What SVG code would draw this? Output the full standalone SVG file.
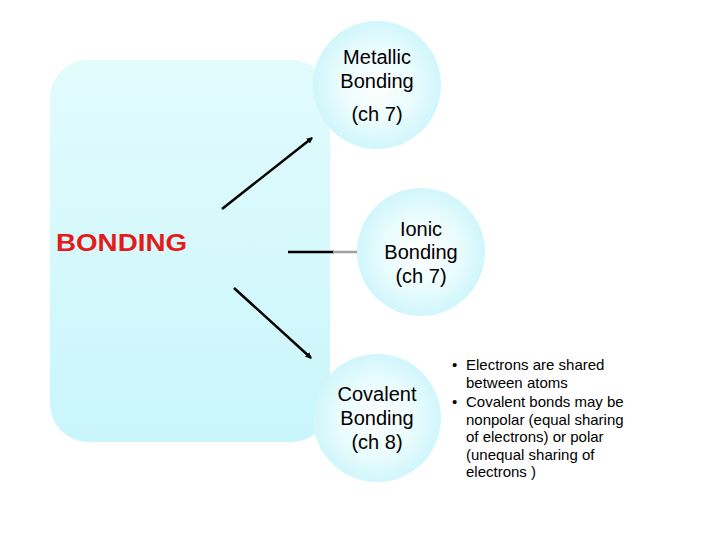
<svg xmlns="http://www.w3.org/2000/svg" width="720" height="540" viewBox="0 0 720 540">
<defs>
<linearGradient id="bg" x1="0" y1="0" x2="0" y2="1"><stop offset="0" stop-color="#e2fbfd"/><stop offset="1" stop-color="#c9f6fb"/></linearGradient>
<radialGradient id="cg" cx="0.5" cy="0.5" r="0.5"><stop offset="0" stop-color="#ffffff"/><stop offset="0.6" stop-color="#e9fcfe"/><stop offset="1" stop-color="#d0f6fb"/></radialGradient>
<marker id="ah" viewBox="0 0 6 6" refX="5" refY="3" markerWidth="2.5" markerHeight="2.5" orient="auto"><path d="M0,0 L6,3 L0,6 z" fill="#000"/></marker>
<style>.t{font-family:"Liberation Sans",Arial,sans-serif;font-size:20px;fill:#000;text-anchor:middle}.s{font-family:"Liberation Sans",Arial,sans-serif;font-size:15px;fill:#000}.c{fill:url(#cg)}.l{stroke:#000;stroke-width:2.5;fill:none}</style>
</defs>
<rect width="720" height="540" fill="#fff"/>
<g id="bonding"><rect x="50" y="60" width="280" height="382" rx="38" fill="url(#bg)"/>
<text x="56" y="251" class="t" textLength="131" lengthAdjust="spacingAndGlyphs" style="fill:#e31b1b;font-size:23px;font-weight:bold;text-anchor:start">BONDING</text></g>
<g id="metallic"><circle cx="377" cy="85" r="64" class="c"/><text class="t" x="377" y="64">Metallic</text><text class="t" x="377" y="88">Bonding</text><text class="t" x="377" y="121">(ch 7)</text></g>
<g id="ionic"><circle cx="421" cy="252" r="64" class="c"/><text class="t" x="421" y="236">Ionic</text><text class="t" x="421" y="259">Bonding</text><text class="t" x="421" y="283">(ch 7)</text></g>
<g id="covalent"><circle cx="377" cy="418" r="64" class="c"/><text class="t" x="377" y="401">Covalent</text><text class="t" x="377" y="425">Bonding</text><text class="t" x="377" y="449">(ch 8)</text></g>
<g id="connectors">
<line class="l" x1="222" y1="209" x2="312" y2="138" marker-end="url(#ah)"/>
<line class="l" x1="288" y1="252" x2="334" y2="252"/>
<line x1="333" y1="252" x2="357" y2="252" stroke="#a0a0a0" stroke-width="2.5"/>
<line class="l" x1="234" y1="288" x2="311" y2="358" marker-end="url(#ah)"/>
</g>
<g id="notes" class="s">
<text x="452" y="370">•</text><text x="466" y="370">Electrons are shared</text>
<text x="466" y="388">between atoms</text>
<text x="452" y="407">•</text><text x="466" y="407">Covalent bonds may be</text>
<text x="466" y="425">nonpolar (equal sharing</text>
<text x="466" y="442">of electrons) or polar</text>
<text x="466" y="460">(unequal sharing of</text>
<text x="466" y="477">electrons )</text>
</g>
</svg>
